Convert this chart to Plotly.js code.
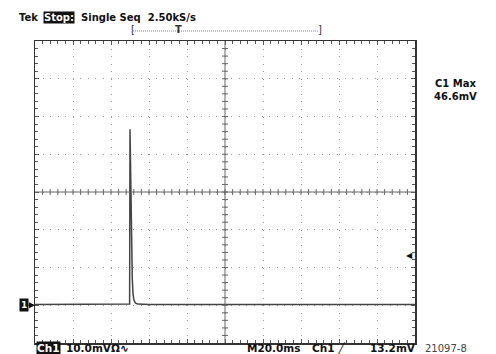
<!DOCTYPE html>
<html><head><meta charset="utf-8">
<script src="https://cdn.plot.ly/plotly-3.0.1.min.js"></script>
<style>html,body{margin:0;padding:0;background:#fff}#plot{width:496px;height:354px}</style>
</head><body><div id="plot"></div>
<script>
// Data (time in ms, voltage in mV)
const timeMs = [0, 20, 40, 49.6, 49.8, 50.0, 50.4, 50.8, 51.2, 51.6, 52.0, 52.8, 54.0, 60, 100, 150, 200];
const ch1mV  = [0.2, 0.2, 0.2, 0.2, 0.3, 46.6, 30, 16, 7, 3, 1.5, 0.6, 0.3, 0.2, 0.2, 0.2, 0.2];
const maxLabel = "46.6mV";
const triggerLevel = 13.2;
const groundLevel = 0;

// layout geometry
const L = 35, R = 415, T = 41, B = 343;
const px = x => (x - L) / (R - L);
const py = y => (B - y) / (B - T);
const FONT = "DejaVu Sans";

const shapes = [];
shapes.push({type:'line', xref:'x', yref:'y', x0:100, x1:100, y0:-10, y1:70, line:{color:'#666', width:1}});
shapes.push({type:'line', xref:'x', yref:'y', x0:0, x1:200, y0:30, y1:30, line:{color:'#666', width:1}});
for (let t = 4; t < 200; t += 4) {
  shapes.push({type:'line', xref:'x', yref:'y', xsizemode:'scaled', ysizemode:'pixel', yanchor:30,
    x0:t, x1:t, y0:-3, y1:3, line:{color:'#666', width:1}});
}
for (let v = -8; v < 70; v += 2) {
  shapes.push({type:'line', xref:'x', yref:'y', xsizemode:'pixel', xanchor:100, ysizemode:'scaled',
    x0:-3, x1:3, y0:v, y1:v, line:{color:'#666', width:1}});
}
// record bar dotted line
shapes.push({type:'line', xref:'paper', yref:'paper', x0:px(133), x1:px(318), y0:py(31), y1:py(31),
  line:{color:'#888', width:1, dash:'1px,1px'}});

const ann = (text, x, y, opts={}) => Object.assign({text, xref:'paper', yref:'paper', x:px(x), y:py(y),
  showarrow:false, xanchor:'left', yanchor:'middle', font:{family:FONT, size:10, color:'#111', weight:'bold'}}, opts);
const bot = {family:FONT, size:10.5, color:'#111', weight:'bold'};
const BY = 348;

const annotations = [
  ann('Tek', 17, 18),
  ann('Stop:', 43, 18, {bgcolor:'#111', font:{family:FONT, size:10, color:'#fff', weight:'bold'}, borderpad:0}),
  ann('Single Seq  2.50kS/s', 79, 18),
  ann('[', 129, 30, {font:{family:FONT, size:10, color:'#333'}}),
  ann(']', 316, 30, {font:{family:FONT, size:10, color:'#333'}}),
  ann('T', 178, 29, {xanchor:'center', font:{family:FONT, size:10, color:'#333', weight:'bold'}}),
  ann('C1 Max', 455, 84, {xanchor:'center'}),
  ann(maxLabel, 455, 96, {xanchor:'center'}),
  ann('Ch1', 36, BY, {bgcolor:'#111', font:{family:FONT, size:10.5, color:'#fff', weight:'bold'}, borderpad:0}),
  ann('10.0mVΩ∿', 64, BY, {font:bot}),
  ann('M20.0ms', 245, BY, {font:bot}),
  ann('Ch1 ╱', 310, BY, {font:bot}),
  ann(triggerLevel.toFixed(1) + 'mV', 368, BY, {font:bot}),
  ann('21097-8', 423, BY, {font:{family:FONT, size:10, color:'#444'}}),
  {text:'1', xref:'paper', yref:'y', x:0, y:groundLevel, showarrow:true, arrowhead:2, arrowsize:0.8,
   arrowwidth:1.5, arrowcolor:'#111', ax:-11, ay:0, bgcolor:'#111', borderpad:1,
   font:{family:FONT, size:9, color:'#fff', weight:'bold'}},
  {text:'◀', xref:'paper', yref:'y', x:1, y:triggerLevel, showarrow:false, xanchor:'right', yanchor:'middle',
   font:{family:FONT, size:8, color:'#111'}}
];

const axBase = {showticklabels:false, zeroline:false, showline:true, linecolor:'#333', linewidth:1.5, mirror:'allticks',
  ticks:'inside', ticklen:4, tickcolor:'#555', showgrid:true, gridcolor:'#999', gridwidth:1,
  griddash:'1px,6.55px', fixedrange:true};

Plotly.newPlot('plot', [{
  x: timeMs, y: ch1mV, type:'scatter', mode:'lines', line:{color:'#444', width:1.5}, hoverinfo:'skip'
}], {
  width:496, height:354, margin:{l:L, r:496-R, t:T, b:354-B},
  paper_bgcolor:'#fff', plot_bgcolor:'#fff', showlegend:false,
  xaxis: Object.assign({}, axBase, {range:[0,200], dtick:20, tick0:0,
    minor:{dtick:4, ticks:'inside', ticklen:3, tickcolor:'#555', showgrid:false}}),
  yaxis: Object.assign({}, axBase, {range:[-10,70], dtick:10, tick0:-10,
    minor:{dtick:2, ticks:'inside', ticklen:3, tickcolor:'#555', showgrid:false}}),
  shapes, annotations
}, {staticPlot:true});
</script></body></html>
